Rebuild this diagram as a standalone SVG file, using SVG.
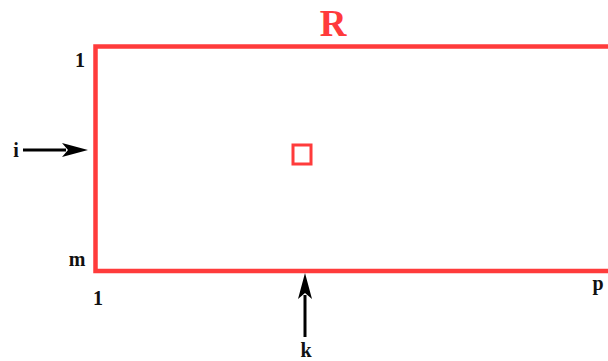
<svg xmlns="http://www.w3.org/2000/svg" width="608" height="361" viewBox="0 0 608 361">
<style>
.red{fill:none;stroke:#ff3b3b;stroke-width:4.5}
.lbl{font-family:"Liberation Serif",serif;font-weight:bold;fill:#111}
.ar{stroke:#000;stroke-width:3;fill:none}
</style>
<g id="R">
<path class="red" d="M612,46.5 H95.5 V271 H612"/>
<text x="333" y="36" class="lbl" font-size="37" text-anchor="middle" style="fill:#ff3b3b">R</text>
</g>
<g id="cell">
<rect class="red" x="293" y="145" width="18" height="19" style="stroke-width:3"/>
</g>
<g id="labels">
<text x="80" y="67" class="lbl" font-size="20" text-anchor="middle">1</text>
<text x="77" y="266" class="lbl" font-size="20" text-anchor="middle">m</text>
<text x="98" y="305" class="lbl" font-size="20" text-anchor="middle">1</text>
<text x="598" y="290" class="lbl" font-size="20" text-anchor="middle">p</text>
<text x="16" y="157" class="lbl" font-size="20" text-anchor="middle">i</text>
<text x="306" y="357" class="lbl" font-size="20" text-anchor="middle">k</text>
</g>
<g id="connectors">
<path d="M23,150 H66" class="ar"/>
<path d="M62,143 L88,150 L62,157 L68,150 Z" fill="#000"/>
<path d="M305,337 V295" class="ar"/>
<path d="M298,299 L305,273 L312,299 L305,293 Z" fill="#000"/>
</g>
</svg>
